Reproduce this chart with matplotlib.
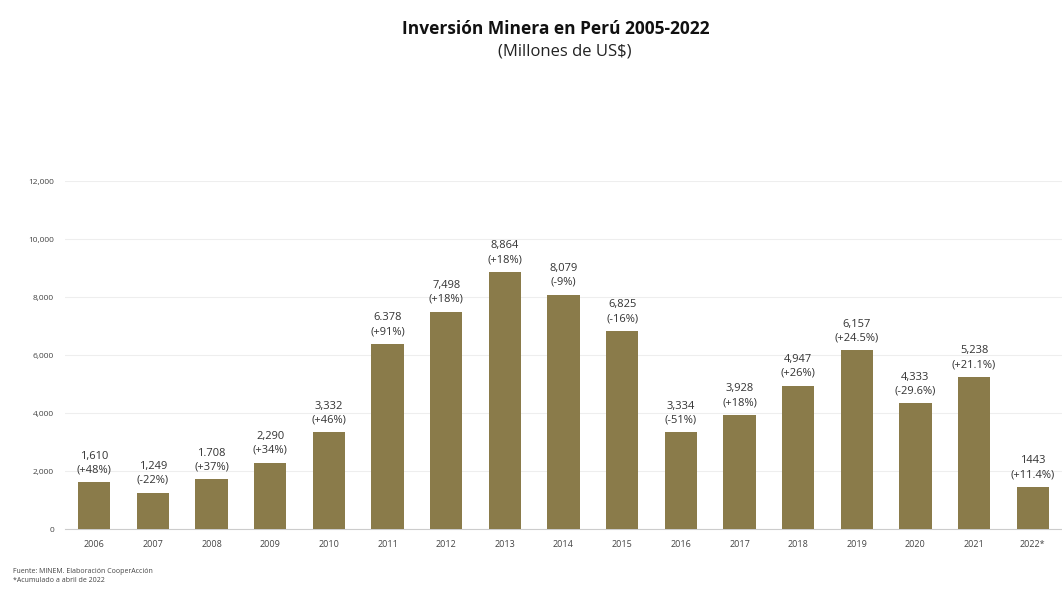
import matplotlib.pyplot as plt
import numpy as np

# Data
YEARS = ["2006", "2007", "2008", "2009", "2010", "2011", "2012", "2013", "2014",
         "2015", "2016", "2017", "2018", "2019", "2020", "2021", "2022*"]
INVERSION = [1610, 1249, 1708, 2290, 3332, 6378, 7498, 8864, 8079,
             6825, 3334, 3928, 4947, 6157, 4333, 5238, 1443]
VALUE_LABELS = ["1,610", "1,249", "1.708", "2,290", "3,332", "6.378", "7,498", "8,864", "8,079",
                "6,825", "3,334", "3,928", "4,947", "6,157", "4,333", "5,238", "1443"]
PCT_LABELS = ["(+48%)", "(-22%)", "(+37%)", "(+34%)", "(+46%)", "(+91%)", "(+18%)", "(+18%)", "(-9%)",
              "(-16%)", "(-51%)", "(+18%)", "(+26%)", "(+24.5%)", "(-29.6%)", "(+21.1%)", "(+11.4%)"]

BAR_COLOR = "#8a7b4a"
plt.rcParams["font.family"] = ["Open Sans", "DejaVu Sans"]

fig = plt.figure(figsize=(10.62, 6.01), dpi=100)
ax = fig.add_axes([0.0612, 0.1198, 0.9388, 0.579])

x = np.arange(len(YEARS))
ax.bar(x, INVERSION, width=0.55, color=BAR_COLOR, zorder=3)

# value + growth labels above each bar
for xi, v, lab, pct in zip(x, INVERSION, VALUE_LABELS, PCT_LABELS):
    ax.annotate(f"{lab}\n{pct}", (xi, v), xytext=(0, 5), textcoords="offset points",
                ha="center", va="bottom", fontsize=8, linespacing=1.35, color="#333333")

ax.set_xlim(-0.5, len(YEARS) - 0.5)
ax.set_ylim(0, 12000)
ax.set_yticks(np.arange(0, 12001, 2000))
ax.set_yticklabels([f"{t:,}" for t in range(0, 12001, 2000)], fontsize=6, color="#444444")
ax.set_xticks(x)
ax.set_xticklabels(YEARS, fontsize=6.5, color="#444444")
ax.tick_params(axis="both", length=0, pad=8)
ax.grid(axis="y", color="#eeeeee", linewidth=0.8, zorder=0)
for s in ["top", "right", "left"]:
    ax.spines[s].set_visible(False)
ax.spines["bottom"].set_color("#cccccc")

fig.text(0.523, 0.952, "Inversión Minera en Perú 2005-2022", ha="center", va="center",
         fontsize=12.5, fontweight="bold", color="#111111")
fig.text(0.532, 0.915, "(Millones de US$)", ha="center", va="center",
         fontsize=12, color="#222222")

fig.text(0.012, 0.041, "Fuente: MINEM. Elaboración CooperAcción\n*Acumulado a abril de 2022",
         ha="left", va="center", fontsize=5, linespacing=1.4, color="#444444")

fig.savefig("out.png", dpi=100)
